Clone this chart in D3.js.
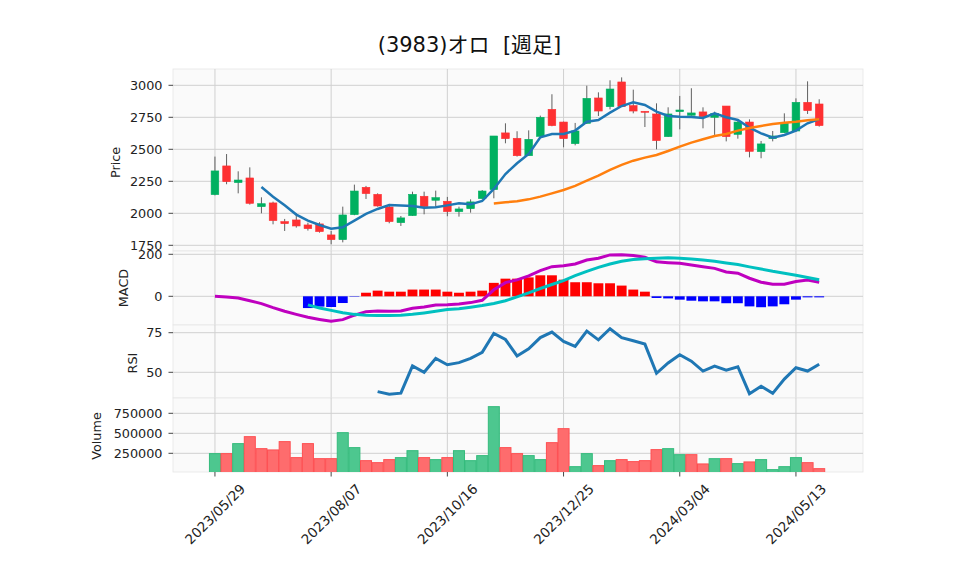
<!DOCTYPE html>
<html><head><meta charset="utf-8">
<script src="https://cdn.jsdelivr.net/npm/d3@7"></script>
<style>body{margin:0;background:#fff}svg{display:block}</style>
</head><body><svg id="c" width="958" height="575"></svg>
<script>
// ---------------- DATA (weekly) ----------------
const dates = ["2023/05/29","2023/06/05","2023/06/12","2023/06/19","2023/06/26","2023/07/03","2023/07/10","2023/07/17","2023/07/24","2023/07/31",
"2023/08/07","2023/08/14","2023/08/21","2023/08/28","2023/09/04","2023/09/11","2023/09/18","2023/09/25","2023/10/02","2023/10/09",
"2023/10/16","2023/10/23","2023/10/30","2023/11/06","2023/11/13","2023/11/20","2023/11/27","2023/12/04","2023/12/11","2023/12/18",
"2023/12/25","2024/01/01","2024/01/08","2024/01/15","2024/01/22","2024/01/29","2024/02/05","2024/02/12","2024/02/19","2024/02/26",
"2024/03/04","2024/03/11","2024/03/18","2024/03/25","2024/04/01","2024/04/08","2024/04/15","2024/04/22","2024/04/29","2024/05/06",
"2024/05/13","2024/05/20","2024/05/27"];
const open  = [2146,2370,2240,2276,2052,2081,1935,1948,1909,1917,1831,1794,1990,2203,2148,2049,1927,1982,2133,2102,2094,2013,2036,2115,2185,2628,2586,2450,2601,2812,2713,2544,2703,2901,2833,3026,2841,2797,2776,2599,2794,2766,2792,2750,2838,2617,2713,2482,2583,2630,2643,2867,2854];
const high  = [2443,2463,2328,2359,2125,2091,1956,2000,1927,1930,1862,2052,2224,2214,2156,2073,1979,2169,2169,2177,2128,2052,2109,2182,2604,2703,2641,2648,2763,2930,2716,2706,2997,2945,3039,3062,2966,2797,2859,2828,2917,2977,2828,2794,2838,2734,2734,2565,2643,2781,2898,3031,2891];
const low   = [2140,2227,2156,2068,2000,1914,1862,1888,1865,1849,1758,1773,1985,2112,2052,1922,1901,1980,1992,2052,1977,1974,2005,2109,2117,2547,2443,2448,2598,2680,2516,2531,2698,2760,2812,2830,2781,2674,2500,2596,2656,2763,2664,2612,2562,2583,2437,2430,2562,2628,2640,2776,2677];
const close = [2331,2247,2260,2078,2075,1943,1919,1901,1880,1857,1794,1987,2174,2154,2057,1935,1964,2148,2052,2122,2013,2034,2089,2174,2604,2583,2450,2578,2750,2685,2583,2643,2898,2799,2971,2833,2799,2794,2568,2776,2807,2784,2755,2781,2599,2713,2484,2542,2604,2703,2867,2802,2685];
const volume = [246000,246000,371000,458000,308000,292000,396000,196000,371000,183000,183000,508000,321000,158000,133000,171000,196000,283000,196000,171000,196000,283000,158000,221000,833000,321000,246000,221000,171000,383000,558000,83000,246000,96000,158000,171000,146000,158000,296000,308000,233000,233000,117000,183000,183000,121000,142000,171000,46000,83000,196000,133000,58000];
const ma5 = [null,null,null,null,2206,2130,2062,1990,1943,1909,1880,1891,1943,1995,2034,2065,2060,2057,2044,2047,2062,2078,2070,2096,2190,2307,2391,2464,2594,2620,2620,2646,2716,2729,2786,2838,2867,2846,2794,2760,2755,2753,2745,2781,2750,2729,2669,2625,2591,2612,2646,2703,2737];
const ma25 = [null,null,null,null,null,null,null,null,null,null,null,null,null,null,null,null,null,null,null,null,null,null,null,null,
2076,2086,2094,2109,2130,2156,2182,2214,2255,2294,2339,2378,2411,2435,2456,2487,2521,2552,2578,2604,2620,2646,2667,2682,2698,2708,2716,2727,2734];
const macd = [0,-3,-8,-21,-35,-54,-71,-86,-100,-110,-119,-111,-90,-73,-70,-71,-70,-57,-51,-41,-40,-37,-30,-19,31,
65,78,97,122,141,146,154,173,181,197,198,194,186,164,160,157,149,141,133,116,110,86,67,57,57,70,78,67];
const signal = [null,null,null,null,null,null,null,null,
-41,-56,-67,-78,-86,-90,-92,-92,-90,-86,-79,-71,-63,-59,-52,-44,-34,
-21,-3,16,37,56,75,98,119,138,154,167,175,179,181,183,181,178,173,167,159,151,140,130,119,110,100,90,79];
const hist = [null,null,null,null,null,null,null,null,
-56,-49,-51,-32,-2,17,27,22,22,32,32,32,22,17,22,27,64,
84,84,90,100,100,79,67,67,62,62,51,32,22,-8,-10,-16,-21,-24,-24,-33,-33,-48,-52,-48,-38,-16,-5,-5];
const rsi = [null,null,null,null,null,null,null,null,null,null,null,null,null,null,
37.8,36.1,36.8,54.0,50.0,58.8,54.8,56.1,58.8,62.6,74.5,
70.7,60.3,64.8,71.9,75.4,69.5,66.4,76.0,70.5,77.5,71.9,69.9,67.8,49.4,55.9,61.1,57.0,50.8,53.9,51.4,53.5,36.5,41.2,36.7,45.7,52.9,50.8,55.1];
const xTickIdx = [0,10,20,30,40,50];
const xTickLabels = ["2023/05/29","2023/08/07","2023/10/16","2023/12/25","2024/03/04","2024/05/13"];
const priceTicks = [1750,2000,2250,2500,2750,3000];
const macdTicks = [0,200];
const rsiTicks = [50,75];
const volTicks = [250000,500000,750000];
const title = "(3983)オロ  [週足]";

// ---------------- LAYOUT ----------------
const svg = d3.select('#c');
svg.append('rect').attr('width',958).attr('height',575).attr('fill','#fff');
const L = 173, R = 863;
const FONT = '"DejaVu Sans", "Noto Sans CJK JP", sans-serif';
const x = d3.scaleLinear().domain([-3.61, 55.77]).range([L, R]);
const step = x(1) - x(0);
const N = close.length;

const panels = [
  {key:'price', top:69,  bottom:251, label:'Price',  lx:115, ly:162.5, ticks:priceTicks, fmt:d=>d,
   y:d3.scaleLinear().domain([1750,3000]).range([245.3,85.3])},
  {key:'macd',  top:251, bottom:325, label:'MACD',   lx:123.5, ly:288, ticks:macdTicks, fmt:d=>d,
   y:d3.scaleLinear().domain([0,200]).range([296.3,254.3])},
  {key:'rsi',   top:325, bottom:398, label:'RSI',    lx:132, ly:363, ticks:rsiTicks, fmt:d=>d,
   y:d3.scaleLinear().domain([50,75]).range([372.3,332.7])},
  {key:'vol',   top:398, bottom:472, label:'Volume', lx:96, ly:436, ticks:volTicks, fmt:d=>d,
   y:d3.scaleLinear().domain([0,750000]).range([473.3,413.3])}
];
const P = {}; panels.forEach(p=>P[p.key]=p);

const defs = svg.append('defs');
panels.forEach(p=>{
  defs.append('clipPath').attr('id','clip-'+p.key).append('rect')
    .attr('x',L).attr('y',p.top).attr('width',R-L).attr('height',p.bottom-p.top);
  svg.append('rect').attr('x',L).attr('y',p.top).attr('width',R-L).attr('height',p.bottom-p.top)
    .attr('fill','#fafafa').attr('stroke','#e6e6e6').attr('stroke-width',0.8);
  const g = svg.append('g').attr('clip-path','url(#clip-'+p.key+')');
  // grid
  g.selectAll('line.hg').data(p.ticks).join('line')
    .attr('x1',L).attr('x2',R).attr('y1',d=>p.y(d)).attr('y2',d=>p.y(d))
    .attr('stroke','#d0d0d0').attr('stroke-width',1);
  g.selectAll('line.vg').data(xTickIdx).join('line').attr('class','vg')
    .attr('x1',d=>x(d)).attr('x2',d=>x(d)).attr('y1',p.top).attr('y2',p.bottom)
    .attr('stroke','#d0d0d0').attr('stroke-width',1);
  p.g = g;
  // y ticks & labels
  const ta = svg.append('g');
  ta.selectAll('line').data(p.ticks).join('line')
    .attr('x1',L-4.5).attr('x2',L).attr('y1',d=>p.y(d)).attr('y2',d=>p.y(d))
    .attr('stroke','#333').attr('stroke-width',0.9);
  ta.selectAll('text').data(p.ticks).join('text')
    .attr('x',162.5).attr('y',d=>p.y(d)).attr('text-anchor','end').attr('dominant-baseline','central')
    .attr('font-family',FONT).attr('font-size',12.8).attr('fill','#222').text(p.fmt);
  svg.append('text').attr('transform',`translate(${p.lx},${p.ly}) rotate(-90)`)
    .attr('text-anchor','middle').attr('dominant-baseline','central')
    .attr('font-family',FONT).attr('font-size',12.8).attr('fill','#222').text(p.label);
});

// ---------------- PRICE ----------------
const yP = P.price.y, gP = P.price.g;
const idx = d3.range(N);
const upC = '#00b060', dnC = '#fe3032';
gP.selectAll('line.wick').data(idx).join('line')
  .attr('x1',i=>x(i)).attr('x2',i=>x(i)).attr('y1',i=>yP(high[i])).attr('y2',i=>yP(low[i]))
  .attr('stroke','#606060').attr('stroke-width',1);
const bw = step*0.66;
gP.selectAll('rect.body').data(idx).join('rect')
  .attr('x',i=>x(i)-bw/2).attr('width',bw)
  .attr('y',i=>yP(Math.max(open[i],close[i])))
  .attr('height',i=>Math.max(1,Math.abs(yP(open[i])-yP(close[i]))))
  .attr('fill',i=>close[i]>=open[i]?upC:dnC)
  .attr('stroke',i=>close[i]>=open[i]?upC:dnC).attr('stroke-width',0.6);
const lineP = d3.line().defined(d=>d[1]!=null).x(d=>x(d[0])).y(d=>yP(d[1]));
gP.append('path').attr('d',lineP(ma5.map((v,i)=>[i,v]))).attr('fill','none')
  .attr('stroke','#1f77b4').attr('stroke-width',2.5);
gP.append('path').attr('d',lineP(ma25.map((v,i)=>[i,v]))).attr('fill','none')
  .attr('stroke','#ff7f0e').attr('stroke-width',2.5);

// ---------------- MACD ----------------
const yM = P.macd.y, gM = P.macd.g;
const hw = step*0.85;
gM.selectAll('rect.h').data(idx.filter(i=>hist[i]!=null)).join('rect')
  .attr('x',i=>x(i)-hw/2).attr('width',hw)
  .attr('y',i=>Math.min(yM(0),yM(hist[i])))
  .attr('height',i=>Math.abs(yM(hist[i])-yM(0)))
  .attr('fill',i=>hist[i]>=0?'#ff0000':'#0000ff');
const lineM = d3.line().defined(d=>d[1]!=null).x(d=>x(d[0])).y(d=>yM(d[1]));
gM.append('path').attr('d',lineM(macd.map((v,i)=>[i,v]))).attr('fill','none')
  .attr('stroke','#bf00bf').attr('stroke-width',3);
gM.append('path').attr('d',lineM(signal.map((v,i)=>[i,v]))).attr('fill','none')
  .attr('stroke','#00c0c0').attr('stroke-width',3);

// ---------------- RSI ----------------
const yR = P.rsi.y, gR = P.rsi.g;
const lineR = d3.line().defined(d=>d[1]!=null).x(d=>x(d[0])).y(d=>yR(d[1]));
gR.append('path').attr('d',lineR(rsi.map((v,i)=>[i,v]))).attr('fill','none')
  .attr('stroke','#1f77b4').attr('stroke-width',3);

// ---------------- VOLUME ----------------
const yV = P.vol.y, gV = P.vol.g;
const vup = i => i===0 || close[i]>=close[i-1];
gV.selectAll('rect.v').data(idx).join('rect')
  .attr('x',i=>x(i)-step/2+0.3).attr('width',step-0.6)
  .attr('y',i=>yV(volume[i])).attr('height',i=>P.vol.bottom-yV(volume[i])+2)
  .attr('fill',i=>vup(i)?'#4dc78f':'#fe6c6d')
  .attr('stroke',i=>vup(i)?'#34bb7c':'#fe4f52').attr('stroke-width',1);

// ---------------- X AXIS ----------------
const xa = svg.append('g');
xa.selectAll('line').data(xTickIdx).join('line')
  .attr('x1',d=>x(d)).attr('x2',d=>x(d)).attr('y1',472).attr('y2',476.5)
  .attr('stroke','#333').attr('stroke-width',0.9);
xa.selectAll('text').data(xTickIdx).join('text')
  .attr('transform',(d)=>`translate(${x(d)},514) rotate(-45)`)
  .attr('text-anchor','middle').attr('dominant-baseline','central')
  .attr('font-family',FONT).attr('font-size',13.6).attr('fill','#222')
  .text((d,k)=>xTickLabels[k]);

// ---------------- TITLE ----------------
svg.append('text').attr('x',469.5).attr('y',45).attr('text-anchor','middle')
  .attr('dominant-baseline','central').style('white-space','pre')
  .attr('font-family',FONT).attr('font-size',21).attr('fill','#111').text(title);
</script></body></html>
